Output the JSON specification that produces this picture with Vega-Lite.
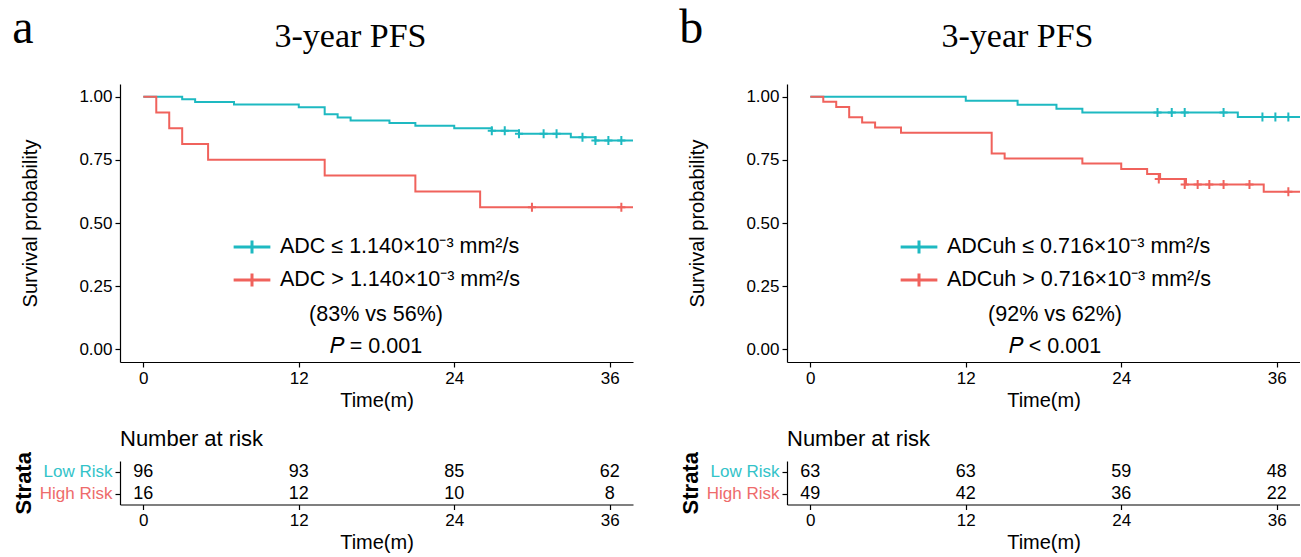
{
  "$schema": "https://vega.github.io/schema/vega-lite/v6.json",
  "background": "white",
  "padding": {"left": 12, "top": 5, "right": 0, "bottom": 0},
  "datasets": {
    "km": [
      {"panel": "a", "group": "low", "time": 0, "surv": 1},
      {"panel": "a", "group": "low", "time": 3, "surv": 0.99},
      {"panel": "a", "group": "low", "time": 4, "surv": 0.979},
      {"panel": "a", "group": "low", "time": 7, "surv": 0.969},
      {"panel": "a", "group": "low", "time": 12, "surv": 0.958},
      {"panel": "a", "group": "low", "time": 14, "surv": 0.93},
      {"panel": "a", "group": "low", "time": 15, "surv": 0.917},
      {"panel": "a", "group": "low", "time": 16, "surv": 0.906},
      {"panel": "a", "group": "low", "time": 19, "surv": 0.896},
      {"panel": "a", "group": "low", "time": 21, "surv": 0.885},
      {"panel": "a", "group": "low", "time": 24, "surv": 0.875},
      {"panel": "a", "group": "low", "time": 26.9, "surv": 0.865},
      {"panel": "a", "group": "low", "time": 29, "surv": 0.853},
      {"panel": "a", "group": "low", "time": 33, "surv": 0.839},
      {"panel": "a", "group": "low", "time": 34.9, "surv": 0.826},
      {"panel": "a", "group": "low", "time": 37.8, "surv": 0.826},
      {"panel": "a", "group": "high", "time": 0, "surv": 1},
      {"panel": "a", "group": "high", "time": 1, "surv": 0.9375},
      {"panel": "a", "group": "high", "time": 2, "surv": 0.875},
      {"panel": "a", "group": "high", "time": 3, "surv": 0.8125},
      {"panel": "a", "group": "high", "time": 5, "surv": 0.75},
      {"panel": "a", "group": "high", "time": 14, "surv": 0.6875},
      {"panel": "a", "group": "high", "time": 21, "surv": 0.625},
      {"panel": "a", "group": "high", "time": 26, "surv": 0.5625},
      {"panel": "a", "group": "high", "time": 37.8, "surv": 0.5625},
      {"panel": "b", "group": "low", "time": 0, "surv": 1},
      {"panel": "b", "group": "low", "time": 12, "surv": 0.984},
      {"panel": "b", "group": "low", "time": 16, "surv": 0.968},
      {"panel": "b", "group": "low", "time": 19, "surv": 0.952},
      {"panel": "b", "group": "low", "time": 21, "surv": 0.937},
      {"panel": "b", "group": "low", "time": 33, "surv": 0.919},
      {"panel": "b", "group": "low", "time": 37.8, "surv": 0.919},
      {"panel": "b", "group": "high", "time": 0, "surv": 1},
      {"panel": "b", "group": "high", "time": 1, "surv": 0.98},
      {"panel": "b", "group": "high", "time": 2, "surv": 0.959},
      {"panel": "b", "group": "high", "time": 3, "surv": 0.918},
      {"panel": "b", "group": "high", "time": 4, "surv": 0.898},
      {"panel": "b", "group": "high", "time": 5, "surv": 0.878},
      {"panel": "b", "group": "high", "time": 7, "surv": 0.857},
      {"panel": "b", "group": "high", "time": 14, "surv": 0.775},
      {"panel": "b", "group": "high", "time": 15, "surv": 0.755},
      {"panel": "b", "group": "high", "time": 21, "surv": 0.735},
      {"panel": "b", "group": "high", "time": 24, "surv": 0.714},
      {"panel": "b", "group": "high", "time": 26, "surv": 0.694},
      {"panel": "b", "group": "high", "time": 27, "surv": 0.674},
      {"panel": "b", "group": "high", "time": 29, "surv": 0.652},
      {"panel": "b", "group": "high", "time": 35, "surv": 0.624},
      {"panel": "b", "group": "high", "time": 37.8, "surv": 0.624}
    ],
    "censor": [
      {"panel": "a", "group": "low", "time": 26.9, "surv": 0.865},
      {"panel": "a", "group": "low", "time": 27.9, "surv": 0.865},
      {"panel": "a", "group": "low", "time": 29, "surv": 0.853},
      {"panel": "a", "group": "low", "time": 30.9, "surv": 0.853},
      {"panel": "a", "group": "low", "time": 31.9, "surv": 0.853},
      {"panel": "a", "group": "low", "time": 33.9, "surv": 0.839},
      {"panel": "a", "group": "low", "time": 34.9, "surv": 0.826},
      {"panel": "a", "group": "low", "time": 35.9, "surv": 0.826},
      {"panel": "a", "group": "low", "time": 36.9, "surv": 0.826},
      {"panel": "a", "group": "high", "time": 30, "surv": 0.5625},
      {"panel": "a", "group": "high", "time": 36.9, "surv": 0.5625},
      {"panel": "b", "group": "low", "time": 26.8, "surv": 0.937},
      {"panel": "b", "group": "low", "time": 27.9, "surv": 0.937},
      {"panel": "b", "group": "low", "time": 28.9, "surv": 0.937},
      {"panel": "b", "group": "low", "time": 31.9, "surv": 0.937},
      {"panel": "b", "group": "low", "time": 34.9, "surv": 0.919},
      {"panel": "b", "group": "low", "time": 35.9, "surv": 0.919},
      {"panel": "b", "group": "low", "time": 36.9, "surv": 0.919},
      {"panel": "b", "group": "high", "time": 26.9, "surv": 0.674},
      {"panel": "b", "group": "high", "time": 28.9, "surv": 0.652},
      {"panel": "b", "group": "high", "time": 29.9, "surv": 0.652},
      {"panel": "b", "group": "high", "time": 30.8, "surv": 0.652},
      {"panel": "b", "group": "high", "time": 31.9, "surv": 0.652},
      {"panel": "b", "group": "high", "time": 33.9, "surv": 0.652},
      {"panel": "b", "group": "high", "time": 36.9, "surv": 0.624}
    ],
    "risk": [
      {"panel": "a", "strata": "Low Risk", "time": 0, "n": 96},
      {"panel": "a", "strata": "Low Risk", "time": 12, "n": 93},
      {"panel": "a", "strata": "Low Risk", "time": 24, "n": 85},
      {"panel": "a", "strata": "Low Risk", "time": 36, "n": 62},
      {"panel": "a", "strata": "High Risk", "time": 0, "n": 16},
      {"panel": "a", "strata": "High Risk", "time": 12, "n": 12},
      {"panel": "a", "strata": "High Risk", "time": 24, "n": 10},
      {"panel": "a", "strata": "High Risk", "time": 36, "n": 8},
      {"panel": "b", "strata": "Low Risk", "time": 0, "n": 63},
      {"panel": "b", "strata": "Low Risk", "time": 12, "n": 63},
      {"panel": "b", "strata": "Low Risk", "time": 24, "n": 59},
      {"panel": "b", "strata": "Low Risk", "time": 36, "n": 48},
      {"panel": "b", "strata": "High Risk", "time": 0, "n": 49},
      {"panel": "b", "strata": "High Risk", "time": 12, "n": 42},
      {"panel": "b", "strata": "High Risk", "time": 24, "n": 36},
      {"panel": "b", "strata": "High Risk", "time": 36, "n": 22}
    ]
  },
  "spacing": 46,
  "resolve": {"scale": {"color": "independent", "x": "independent", "y": "independent"}, "legend": {"color": "independent"}},
  "hconcat": [
    {
      "title": {"text": "a", "anchor": "start", "frame": "bounds", "fontSize": 48, "font": "Liberation Serif", "fontWeight": "normal", "color": "black", "offset": -33},
      "spacing": 17,
      "resolve": {"scale": {"color": "independent", "x": "independent", "y": "independent"}, "legend": {"color": "independent"}},
      "vconcat": [
        {
          "width": 513,
          "height": 278,
          "title": {"text": "3-year PFS", "anchor": "middle", "frame": "group", "dx": -26, "fontSize": 34, "font": "Liberation Serif", "fontWeight": "normal", "color": "black", "offset": 30},
          "layer": [
            {
              "data": {"name": "km"},
              "transform": [{"filter": "datum.panel === 'a'"}],
              "mark": {"type": "line", "interpolate": "step-after", "strokeWidth": 2, "clip": true},
              "encoding": {
                "x": {"field": "time", "type": "quantitative", "scale": {"domain": [-1.8, 37.8], "nice": false, "zero": false}, "axis": {"values": [0, 12, 24, 36], "format": "d", "title": "Time(m)"}},
                "y": {"field": "surv", "type": "quantitative", "scale": {"domain": [-0.05, 1.05], "nice": false, "zero": false}, "axis": {"values": [0, 0.25, 0.5, 0.75, 1], "format": ".2f", "title": "Survival probability", "titlePadding": 38}},
                "color": {
                  "field": "group", "type": "nominal",
                  "scale": {"domain": ["low", "high"], "range": ["#1EB9C1", "#F0625C"]},
                  "legend": {
                    "orient": "none", "legendX": 112, "legendY": 143, "padding": 0,
                    "title": ["(83% vs 56%)", "𝑃 = 0.001"],
                    "titleOrient": "bottom", "titleAnchor": "middle", "titleAlign": "center",
                    "titleFontSize": 21.5, "titleFont": "Liberation Sans", "titleFontWeight": "normal", "titleColor": "black", "titleLineHeight": 32, "titlePadding": 11, "titleLimit": 500,
                    "labelExpr": "datum.value === 'low' ? 'ADC ≤ 1.140×10⁻³ mm²/s' : 'ADC > 1.140×10⁻³ mm²/s'",
                    "labelFontSize": 21.5, "labelFont": "Liberation Sans", "labelColor": "black", "labelLimit": 500, "labelOffset": 8,
                    "symbolSize": 1350, "rowPadding": -4, "symbolType": "M-1,0L1,0M0,-0.36L0,0.36", "symbolStrokeWidth": 3,
                    "encode": {"symbols": {"update": {"shape": {"value": "M-1,0L1,0M0,-0.36L0,0.36"}, "size": {"value": 1350}, "strokeWidth": {"value": 3}}}}
                  }
                }
              }
            },
            {
              "data": {"name": "censor"},
              "transform": [{"filter": "datum.panel === 'a'"}],
              "mark": {"type": "point", "shape": "M-0.9,0L0.9,0M0,-1L0,1", "size": 81, "filled": false, "strokeWidth": 2, "opacity": 1, "clip": true},
              "encoding": {
                "x": {"field": "time", "type": "quantitative"},
                "y": {"field": "surv", "type": "quantitative"},
                "color": {"field": "group", "type": "nominal"}
              }
            }
          ]
        },
        {
          "width": 513,
          "height": 43.5,
          "title": {"text": "Number at risk", "anchor": "start", "frame": "group", "font": "Liberation Sans", "fontSize": 22, "fontWeight": "normal", "color": "black", "offset": 1},
          "data": {"name": "risk"},
          "transform": [{"filter": "datum.panel === 'a'"}],
          "mark": {"type": "text", "fontSize": 18, "font": "Liberation Sans", "color": "black"},
          "encoding": {
            "x": {"field": "time", "type": "quantitative", "scale": {"domain": [-1.8, 37.8], "nice": false, "zero": false}, "axis": {"values": [0, 12, 24, 36], "format": "d", "title": "Time(m)"}},
            "y": {"field": "strata", "type": "nominal", "sort": ["Low Risk", "High Risk"], "axis": {"title": "Strata", "titleFontWeight": "bold", "titleFontSize": 22, "titlePadding": 4, "labelFont": "Liberation Sans", "labelFontSize": 17, "labelColor": {"condition": {"test": "datum.value === 'Low Risk'", "value": "#33C3C9"}, "value": "#EE6B6B"}}},
            "text": {"field": "n", "type": "quantitative"}
          }
        }
      ]
    },
    {
      "title": {"text": "b", "anchor": "start", "frame": "bounds", "fontSize": 48, "font": "Liberation Serif", "fontWeight": "normal", "color": "black", "offset": -33},
      "spacing": 17,
      "resolve": {"scale": {"color": "independent", "x": "independent", "y": "independent"}, "legend": {"color": "independent"}},
      "vconcat": [
        {
          "width": 513,
          "height": 278,
          "title": {"text": "3-year PFS", "anchor": "middle", "frame": "group", "dx": -26, "fontSize": 34, "font": "Liberation Serif", "fontWeight": "normal", "color": "black", "offset": 30},
          "layer": [
            {
              "data": {"name": "km"},
              "transform": [{"filter": "datum.panel === 'b'"}],
              "mark": {"type": "line", "interpolate": "step-after", "strokeWidth": 2, "clip": true},
              "encoding": {
                "x": {"field": "time", "type": "quantitative", "scale": {"domain": [-1.8, 37.8], "nice": false, "zero": false}, "axis": {"values": [0, 12, 24, 36], "format": "d", "title": "Time(m)"}},
                "y": {"field": "surv", "type": "quantitative", "scale": {"domain": [-0.05, 1.05], "nice": false, "zero": false}, "axis": {"values": [0, 0.25, 0.5, 0.75, 1], "format": ".2f", "title": "Survival probability", "titlePadding": 38}},
                "color": {
                  "field": "group", "type": "nominal",
                  "scale": {"domain": ["low", "high"], "range": ["#1EB9C1", "#F0625C"]},
                  "legend": {
                    "orient": "none", "legendX": 112, "legendY": 143, "padding": 0,
                    "title": ["(92% vs 62%)", "𝑃 < 0.001"],
                    "titleOrient": "bottom", "titleAnchor": "middle", "titleAlign": "center",
                    "titleFontSize": 21.5, "titleFont": "Liberation Sans", "titleFontWeight": "normal", "titleColor": "black", "titleLineHeight": 32, "titlePadding": 11, "titleLimit": 500,
                    "labelExpr": "datum.value === 'low' ? 'ADCuh ≤ 0.716×10⁻³ mm²/s' : 'ADCuh > 0.716×10⁻³ mm²/s'",
                    "labelFontSize": 21.5, "labelFont": "Liberation Sans", "labelColor": "black", "labelLimit": 500, "labelOffset": 8,
                    "symbolSize": 1350, "rowPadding": -4, "symbolType": "M-1,0L1,0M0,-0.36L0,0.36", "symbolStrokeWidth": 3,
                    "encode": {"symbols": {"update": {"shape": {"value": "M-1,0L1,0M0,-0.36L0,0.36"}, "size": {"value": 1350}, "strokeWidth": {"value": 3}}}}
                  }
                }
              }
            },
            {
              "data": {"name": "censor"},
              "transform": [{"filter": "datum.panel === 'b'"}],
              "mark": {"type": "point", "shape": "M-0.9,0L0.9,0M0,-1L0,1", "size": 81, "filled": false, "strokeWidth": 2, "opacity": 1, "clip": true},
              "encoding": {
                "x": {"field": "time", "type": "quantitative"},
                "y": {"field": "surv", "type": "quantitative"},
                "color": {"field": "group", "type": "nominal"}
              }
            }
          ]
        },
        {
          "width": 513,
          "height": 43.5,
          "title": {"text": "Number at risk", "anchor": "start", "frame": "group", "font": "Liberation Sans", "fontSize": 22, "fontWeight": "normal", "color": "black", "offset": 1},
          "data": {"name": "risk"},
          "transform": [{"filter": "datum.panel === 'b'"}],
          "mark": {"type": "text", "fontSize": 18, "font": "Liberation Sans", "color": "black"},
          "encoding": {
            "x": {"field": "time", "type": "quantitative", "scale": {"domain": [-1.8, 37.8], "nice": false, "zero": false}, "axis": {"values": [0, 12, 24, 36], "format": "d", "title": "Time(m)"}},
            "y": {"field": "strata", "type": "nominal", "sort": ["Low Risk", "High Risk"], "axis": {"title": "Strata", "titleFontWeight": "bold", "titleFontSize": 22, "titlePadding": 4, "labelFont": "Liberation Sans", "labelFontSize": 17, "labelColor": {"condition": {"test": "datum.value === 'Low Risk'", "value": "#33C3C9"}, "value": "#EE6B6B"}}},
            "text": {"field": "n", "type": "quantitative"}
          }
        }
      ]
    }
  ],
  "config": {
    "view": {"stroke": null},
    "axis": {
      "grid": false,
      "labelFont": "Liberation Sans", "titleFont": "Liberation Sans",
      "labelFontSize": 17, "titleFontSize": 20, "titleFontWeight": "normal",
      "labelColor": "black", "titleColor": "black", "domainColor": "black", "tickColor": "black",
      "tickSize": 5, "domainWidth": 1.2, "tickWidth": 1.2, "labelPadding": 3, "titlePadding": 4
    }
  }
}
